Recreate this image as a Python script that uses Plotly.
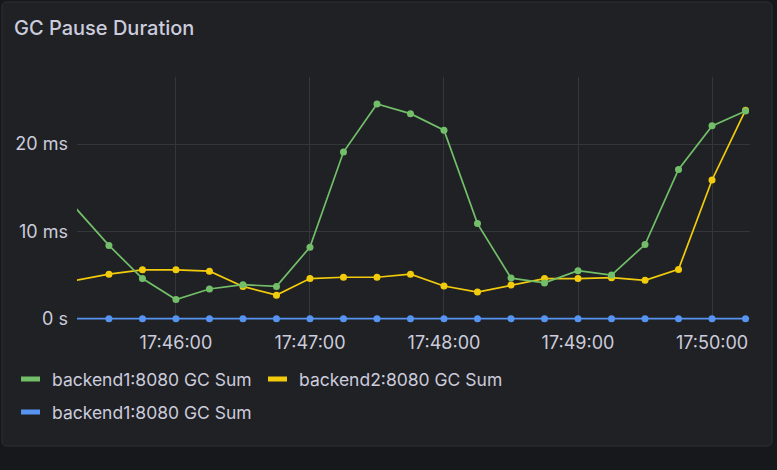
import plotly.graph_objects as go
import pandas as pd

# 15 s samples, first one sits just left of the visible window
times = pd.date_range("2024-01-01 17:45:15", "2024-01-01 17:50:15", freq="15s")

backend1_green = [12.7, 8.4, 4.6, 2.2, 3.4, 3.9, 3.7, 8.2, 19.1, 24.6, 23.5,
                  21.6, 10.9, 4.65, 4.1, 5.5, 5.0, 8.5, 17.1, 22.1, 23.8]
backend2_yellow = [4.4, 5.1, 5.6, 5.6, 5.45, 3.7, 2.7, 4.6, 4.75, 4.75, 5.1,
                   3.75, 3.05, 3.85, 4.6, 4.6, 4.7, 4.4, 5.65, 15.9, 23.9]
backend1_blue = [0.0] * len(times)

series_names = ["backend1:8080 GC Sum", "backend2:8080 GC Sum", "backend1:8080 GC Sum"]
series_colors = ["#73BF69", "#F2CC0C", "#5794F2"]

y_ticks = [0, 10, 20]
y_tick_text = ["0 s", "10 ms", "20 ms"]

W, H = 777, 470
L, R, T, B = 77, 750, 77, 320   # plot area in pixels
TEXT = "#ccccdc"
FONT = "Inter"


def px(x):
    return (x - L) / (R - L)


def py(y):
    return (B - y) / (B - T)


fig = go.Figure()

# draw blue first so green / yellow sit on top
order = [2, 1, 0]
values = [backend1_green, backend2_yellow, backend1_blue]
for i in order:
    fig.add_trace(go.Scatter(x=times, y=values[i], mode="lines",
                             line=dict(color=series_colors[i], width=1.7),
                             hoverinfo="skip", showlegend=False))
    fig.add_trace(go.Scatter(x=times[1:], y=values[i][1:], mode="markers",
                             marker=dict(color=series_colors[i], size=7),
                             cliponaxis=False, name=series_names[i], showlegend=False))

# panel background with rounded corners
x0, y0, x1, y1, r = 2, 2, 772, 446, 5
path = (f"M {px(x0 + r)},{py(y0)} L {px(x1 - r)},{py(y0)} "
        f"Q {px(x1)},{py(y0)} {px(x1)},{py(y0 + r)} L {px(x1)},{py(y1 - r)} "
        f"Q {px(x1)},{py(y1)} {px(x1 - r)},{py(y1)} L {px(x0 + r)},{py(y1)} "
        f"Q {px(x0)},{py(y1)} {px(x0)},{py(y1 - r)} L {px(x0)},{py(y0 + r)} "
        f"Q {px(x0)},{py(y0)} {px(x0 + r)},{py(y0)} Z")
fig.add_shape(type="path", path=path, xref="paper", yref="paper",
              fillcolor="#1f2125", line=dict(color="#2c2f34", width=1), layer="below")

# legend drawn by hand: two rows like the Grafana panel
legend_pos = [(20, 379), (267, 379), (20, 412)]
for i, (lx, ly) in enumerate(legend_pos):
    fig.add_shape(type="line", xref="paper", yref="paper",
                  x0=px(lx + 1), x1=px(lx + 20), y0=py(ly), y1=py(ly),
                  line=dict(color=series_colors[i], width=5))
    fig.add_annotation(text=series_names[i], xref="paper", yref="paper",
                       x=px(lx + 30), y=py(ly), xanchor="left", yanchor="middle",
                       showarrow=False, font=dict(family=FONT, size=17.5, color=TEXT))

fig.add_annotation(text="GC Pause Duration", xref="paper", yref="paper",
                   x=px(12), y=py(28), xanchor="left", yanchor="middle",
                   showarrow=False, font=dict(family=FONT, size=20, color=TEXT, weight=500))

fig.update_layout(
    width=W, height=H, autosize=False,
    margin=dict(l=L, r=W - R, t=T, b=H - B),
    paper_bgcolor="#17181b", plot_bgcolor="rgba(0,0,0,0)",
    font=dict(family=FONT, size=18, color=TEXT),
    showlegend=False,
)
fig.update_xaxes(range=["2024-01-01 17:45:15.7", "2024-01-01 17:50:17"],
                 tickformat="%H:%M:%S", dtick=60000, tick0="2024-01-01 17:46:00",
                 showgrid=True, gridcolor="#33363b", gridwidth=1,
                 zeroline=False, showline=False, ticks="", ticklabelstandoff=10,
                 tickfont=dict(family=FONT, size=18, color=TEXT))
# a hair below zero so the flat blue series is not clipped by the plot edge
fig.update_yaxes(range=[-0.15, 27.7], tickvals=y_ticks, ticktext=y_tick_text,
                 showgrid=True, gridcolor="#33363b", gridwidth=1,
                 zeroline=False, showline=False, ticks="", ticklabelstandoff=8,
                 tickfont=dict(family=FONT, size=18, color=TEXT))

# the page body has a default 8px margin; drop it so the figure sits at 0,0
fig.write_html("out.html", config={"displayModeBar": False},
               post_script="document.body.style.margin='0';")
